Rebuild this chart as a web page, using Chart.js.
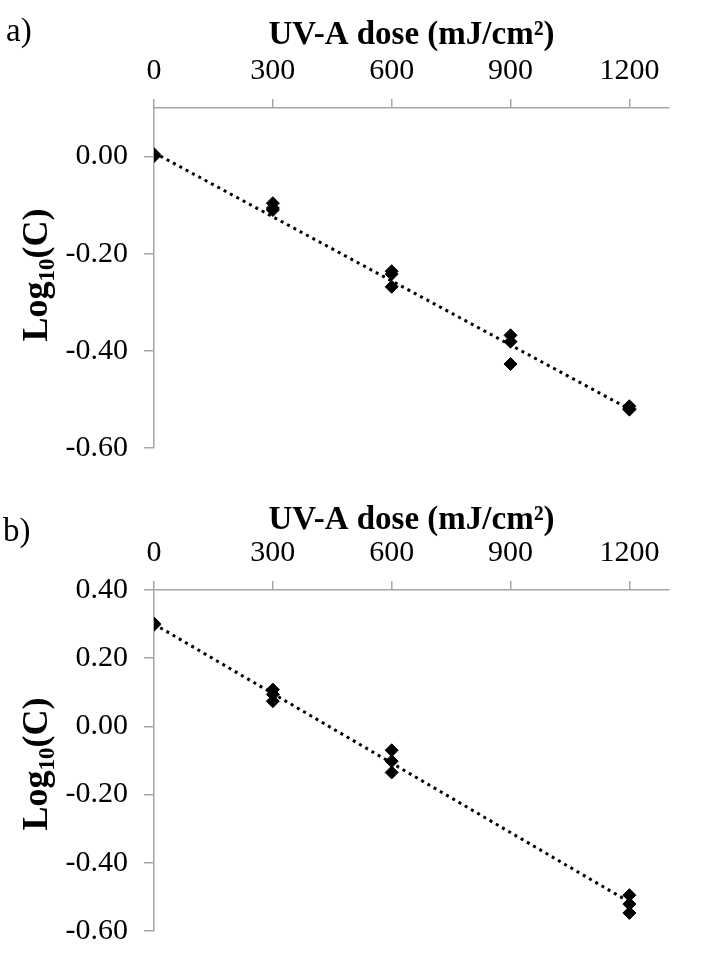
<!DOCTYPE html>
<html>
<head>
<meta charset="utf-8">
<script src="https://cdn.jsdelivr.net/npm/chart.js@4.4.1/dist/chart.umd.min.js"></script>
<style>
  body { margin: 0; background: #fff; }
  .wrap { position: relative; width: 712px; height: 965px; }
  canvas { position: absolute; left: 0; }
  .panel { position: absolute; font-family: "Liberation Serif", "Times New Roman", serif; font-size: 33px; color: #000; }
</style>
</head>
<body>
<div class="wrap">
  <canvas id="chartA" width="712" height="482" style="top:0"></canvas>
  <canvas id="chartB" width="712" height="483" style="top:482px"></canvas>
  <div class="panel" style="left:6px; top:12px;">a)</div>
  <div class="panel" style="left:3px; top:512px;">b)</div>
</div>
<script>
const doseTicks = [0, 300, 600, 900, 1200];
const yTicksA = [-0.6, -0.4, -0.2, 0.0];
const yTicksB = [-0.6, -0.4, -0.2, 0.0, 0.2, 0.4];

// panel a) measured points
const doseA = [0, 0, 0, 300, 300, 300, 600, 600, 600, 900, 900, 900, 1200, 1200, 1200];
const logA = [0.005, 0.001, 0.003, -0.096, -0.106, -0.110, -0.236, -0.242, -0.268, -0.368, -0.381, -0.427, -0.514, -0.519, -0.521];

// panel b) measured points
const doseB = [0, 0, 0, 300, 300, 300, 600, 600, 600, 1200, 1200, 1200];
const logB = [0.302, 0.298, 0.300, 0.108, 0.094, 0.074, -0.070, -0.102, -0.135, -0.495, -0.521, -0.547];

// trendline ends
const trendDose = [0, 1200];
const trendA = [0.008, -0.520];
const trendB = [0.300, -0.515];

const serif = '"Liberation Serif", "Times New Roman", serif';
const axisGray = '#a6a6a6';

// y title with a real subscript
const yTitlePlugin = {
  id: 'yTitle',
  afterDraw(chart, args, opts) {
    const ctx = chart.ctx;
    ctx.save();
    ctx.translate(opts.x, opts.y);
    ctx.rotate(-Math.PI / 2);
    ctx.fillStyle = '#000';
    ctx.textBaseline = 'alphabetic';
    const big = 'bold 36px ' + serif, small = 'bold 23px ' + serif;
    ctx.font = big;
    const w1 = ctx.measureText('Log').width, w3 = ctx.measureText('(C)').width;
    ctx.font = small;
    const w2 = ctx.measureText('10').width;
    let x = -(w1 + w2 + w3) / 2;
    const base = 12;
    ctx.font = big; ctx.fillText('Log', x, base); x += w1;
    ctx.font = small; ctx.fillText('10', x, base + 7); x += w2;
    ctx.font = big; ctx.fillText('(C)', x, base);
    ctx.restore();
  }
};

function makeChart(id, dose, vals, trend, yMin, yMax, yTicks, pad, titleTop, titlePos) {
  const pts = dose.map((d, i) => ({ x: d, y: vals[i] }));
  const line = trendDose.map((d, i) => ({ x: d, y: trend[i] }));
  return new Chart(document.getElementById(id), {
    type: 'scatter',
    data: {
      datasets: [
        {
          data: pts,
          pointStyle: 'rectRot',
          pointRadius: 6.5,
          pointBackgroundColor: '#000',
          pointBorderColor: '#000',
          pointBorderWidth: 1
        },
        {
          type: 'line',
          data: line,
          borderColor: '#000',
          borderWidth: 3,
          borderDash: [3, 4.2],
          pointRadius: 0,
          fill: false
        }
      ]
    },
    options: {
      responsive: false,
      animation: false,
      layout: { padding: pad },
      plugins: {
        legend: { display: false },
        tooltip: { enabled: false },
        yTitle: titlePos
      },
      scales: {
        x: {
          type: 'linear',
          position: 'top',
          min: 0,
          max: 1300,
          afterBuildTicks: s => { s.ticks = doseTicks.map(v => ({ value: v })); },
          afterFit: s => { s.height = 108; },
          ticks: {
            padding: 10,
            color: '#000',
            font: { family: serif, size: 30 },
            callback: v => String(v)
          },
          grid: { drawOnChartArea: false, color: axisGray, tickLength: 9, lineWidth: 1.5 },
          border: { color: axisGray, width: 1.5 },
          title: {
            display: true,
            text: 'UV-A dose (mJ/cm²)',
            color: '#000',
            font: { family: serif, size: 33, weight: 'bold' },
            padding: { top: titleTop, bottom: 0 }
          }
        },
        y: {
          min: yMin,
          max: yMax,
          afterBuildTicks: s => { s.ticks = yTicks.map(v => ({ value: v })); },
          afterFit: s => { s.width = 154; },
          ticks: {
            padding: 16,
            color: '#000',
            font: { family: serif, size: 30 },
            callback: v => (Math.abs(v) < 1e-9 ? 0 : v).toFixed(2)
          },
          grid: { drawOnChartArea: false, color: axisGray, tickLength: 10, lineWidth: 1.5 },
          border: { color: axisGray, width: 1.5 }
        }
      }
    },
    plugins: [yTitlePlugin]
  });
}

makeChart('chartA', doseA, logA, trendA, -0.6, 0.1, yTicksA,
  { left: 0, top: 0, right: 43, bottom: 29 }, 16, { x: 35, y: 275 });
makeChart('chartB', doseB, logB, trendB, -0.6, 0.4, yTicksB,
  { left: 0, top: 0, right: 43, bottom: 21 }, 19, { x: 35, y: 282 });
</script>
</body>
</html>
